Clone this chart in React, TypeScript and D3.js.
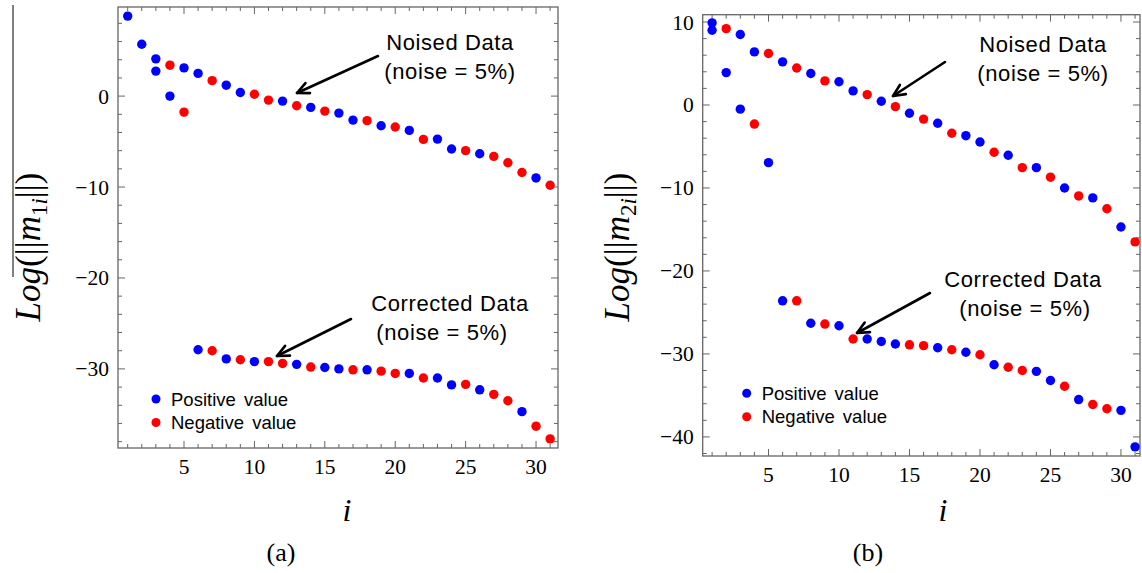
import React from "react";
import * as d3 from "d3";

// ---------- data: panel (a) ----------
const aNoisedI = [1, 2, 3, 3, 4, 4, 5, 5, 6, 7, 8, 9, 10, 11, 12, 13, 14, 15, 16, 17, 18, 19, 20, 21, 22, 23, 24, 25, 26, 27, 28, 29, 30, 31];
const aNoisedV = [8.8, 5.7, 4.1, 2.75, 3.4, 0.0, 3.1, -1.76, 2.5, 1.7, 1.2, 0.4, 0.2, -0.44, -0.55, -1.06, -1.24, -1.65, -1.87, -2.64, -2.7, -3.26, -3.4, -3.77, -4.76, -4.73, -5.82, -6.0, -6.34, -6.63, -7.33, -8.4, -9.0, -9.8];
const aNoisedS = ["P", "P", "P", "P", "N", "P", "P", "N", "P", "N", "P", "P", "N", "N", "P", "N", "P", "N", "P", "P", "N", "P", "N", "P", "N", "P", "P", "N", "P", "N", "N", "N", "P", "N"];

const aCorrI = [6, 7, 8, 9, 10, 11, 12, 13, 14, 15, 16, 17, 18, 19, 20, 21, 22, 23, 24, 25, 26, 27, 28, 29, 30, 31];
const aCorrV = [-27.9, -28.0, -28.9, -29.0, -29.2, -29.2, -29.4, -29.5, -29.8, -29.85, -30.0, -30.1, -30.1, -30.25, -30.5, -30.5, -31.0, -31.0, -31.76, -31.7, -32.3, -32.8, -33.5, -34.7, -36.3, -37.7];
const aCorrS = ["P", "N", "P", "N", "P", "N", "N", "P", "N", "P", "P", "N", "P", "N", "N", "P", "N", "P", "P", "N", "P", "N", "N", "P", "N", "N"];

// ---------- data: panel (b) ----------
const bNoisedI = [1, 1, 2, 2, 3, 3, 4, 4, 5, 5, 6, 7, 8, 9, 10, 11, 12, 13, 14, 15, 16, 17, 18, 19, 20, 21, 22, 23, 24, 25, 26, 27, 28, 29, 30, 31];
const bNoisedV = [9.9, 9.0, 9.2, 3.9, 8.5, -0.5, 6.4, -2.3, 6.2, -6.95, 5.2, 4.46, 3.8, 2.9, 2.8, 1.7, 1.25, 0.45, -0.2, -1.0, -1.7, -2.2, -3.4, -3.7, -4.46, -5.7, -6.06, -7.55, -7.55, -8.7, -10.0, -10.96, -11.2, -12.5, -14.7, -16.5];
const bNoisedS = ["P", "P", "N", "P", "P", "P", "P", "N", "N", "P", "P", "N", "P", "N", "P", "P", "N", "P", "N", "P", "N", "P", "N", "P", "P", "N", "P", "N", "P", "N", "P", "N", "P", "N", "P", "N"];

const bCorrI = [6, 7, 8, 9, 10, 11, 12, 13, 14, 15, 16, 17, 18, 19, 20, 21, 22, 23, 24, 25, 26, 27, 28, 29, 30, 31];
const bCorrV = [-23.6, -23.6, -26.3, -26.4, -26.6, -28.2, -28.2, -28.5, -28.8, -28.9, -29.0, -29.25, -29.5, -29.8, -30.1, -31.3, -31.6, -32.0, -32.1, -33.2, -33.9, -35.5, -36.1, -36.6, -36.8, -41.2];
const bCorrS = ["P", "N", "P", "N", "P", "N", "P", "P", "P", "N", "N", "P", "N", "P", "N", "P", "N", "N", "P", "P", "N", "P", "N", "N", "P", "P"];

// ---------- ticks & texts ----------
const xMajorTicks = [5, 10, 15, 20, 25, 30];
const aYMajorTicks = [-30, -20, -10, 0];
const bYMajorTicks = [-40, -30, -20, -10, 0, 10];
const legendLabels = ["Positive value", "Negative value"];
const noisedText = ["Noised Data", "(noise = 5%)"];
const correctedText = ["Corrected Data", "(noise = 5%)"];

const BLUE = "#0000ff";
const RED = "#ff0000";
const FRAME = "#666";
const SERIF = "Liberation Serif, Times New Roman, serif";
const SANS = "Liberation Sans, Arial, sans-serif";

type Pt = { i: number; v: number; s: string };
const zip = (I: number[], V: number[], S: string[]): Pt[] => I.map((i, k) => ({ i, v: V[k], s: S[k] }));

function Arrow({ x1, y1, x2, y2 }: { x1: number; y1: number; x2: number; y2: number }) {
  const ang = Math.atan2(y2 - y1, x2 - x1);
  const L = 13;
  const a = (25 * Math.PI) / 180;
  const p1 = [x2 - L * Math.cos(ang - a), y2 - L * Math.sin(ang - a)];
  const p2 = [x2 - L * Math.cos(ang + a), y2 - L * Math.sin(ang + a)];
  return (
    <g stroke="#000" strokeWidth={2.6} fill="none" strokeLinecap="round" strokeLinejoin="round">
      <line x1={x1} y1={y1} x2={x2} y2={y2} />
      <polyline points={`${p1[0]},${p1[1]} ${x2},${y2} ${p2[0]},${p2[1]}`} />
    </g>
  );
}

type PanelCfg = {
  l: number; r: number; t: number; b: number;
  xDom: [number, number]; yDom: [number, number];
  yMajor: number[];
  yMinorFrom: number; yMinorTo: number;
  sub: string;
  caption: string;
  data: Pt[];
  legendX: number; legendY: number;
  noisedX: number; noisedY: number;
  corrX: number; corrY: number; corr2X: number;
  arrowN: [number, number, number, number];
  arrowC: [number, number, number, number];
  ylabelX: number;
  iX: number; capX: number;
};

function Panel({ c }: { c: PanelCfg }) {
  const x = d3.scaleLinear().domain(c.xDom).range([c.l, c.r]);
  const y = d3.scaleLinear().domain(c.yDom).range([c.b, c.t]);
  const xMinor = d3.range(1, 32).filter((v) => v >= c.xDom[0] && v <= c.xDom[1]);
  const yMinor = d3.range(c.yMinorFrom, c.yMinorTo + 0.01, 2);
  const isMajX = (v: number) => xMajorTicks.includes(v);
  const isMajY = (v: number) => c.yMajor.includes(v);
  const maj = 7, min = 4;
  const yMid = 247;
  return (
    <g>
      <rect x={c.l} y={c.t} width={c.r - c.l} height={c.b - c.t} fill="none" stroke={FRAME} strokeWidth={1.3} />
      <g stroke={FRAME} strokeWidth={1}>
        {xMinor.map((v) => {
          const len = isMajX(v) ? maj : min;
          return (
            <g key={"x" + v}>
              <line x1={x(v)} x2={x(v)} y1={c.b} y2={c.b - len} />
              <line x1={x(v)} x2={x(v)} y1={c.t} y2={c.t + len} />
            </g>
          );
        })}
        {yMinor.map((v) => {
          const len = isMajY(v) ? maj : min;
          return (
            <g key={"y" + v}>
              <line x1={c.l} x2={c.l + len} y1={y(v)} y2={y(v)} />
              <line x1={c.r} x2={c.r - len} y1={y(v)} y2={y(v)} />
            </g>
          );
        })}
      </g>
      {xMajorTicks.map((v) => (
        <text key={"xl" + v} x={x(v)} y={c.b + 26} textAnchor="middle" fontFamily={SERIF} fontSize={21.5} fill="#000">{v}</text>
      ))}
      {c.yMajor.map((v) => (
        <text key={"yl" + v} x={c.l - 9} y={y(v) + 7.5} textAnchor="end" fontFamily={SERIF} fontSize={21.5} fill="#000">{String(v).replace("-", "\u2212")}</text>
      ))}
      {c.data.map((p, k) => (
        <circle key={k} cx={x(p.i)} cy={y(p.v)} r={4.7} fill={p.s === "P" ? BLUE : RED} />
      ))}
      {legendLabels.map((lab, k) => (
        <g key={lab}>
          <circle cx={c.legendX} cy={c.legendY + k * 23.5} r={4.5} fill={k === 0 ? BLUE : RED} />
          <text x={c.legendX + 15} y={c.legendY + k * 23.5 + 6.5} fontFamily={SANS} fontSize={18.5} wordSpacing={3} fill="#000">{lab}</text>
        </g>
      ))}
      <g fontFamily={SANS} fontSize={22} letterSpacing={0.6} fill="#000" textAnchor="middle">
        <text x={c.noisedX} y={c.noisedY}>{noisedText[0]}</text>
        <text x={c.noisedX} y={c.noisedY + 29}>{noisedText[1]}</text>
        <text x={c.corrX} y={c.corrY}>{correctedText[0]}</text>
        <text x={c.corr2X} y={c.corrY + 29}>{correctedText[1]}</text>
      </g>
      <Arrow x1={c.arrowN[0]} y1={c.arrowN[1]} x2={c.arrowN[2]} y2={c.arrowN[3]} />
      <Arrow x1={c.arrowC[0]} y1={c.arrowC[1]} x2={c.arrowC[2]} y2={c.arrowC[3]} />
      <text x={c.iX} y={521} fontFamily={SERIF} fontStyle="italic" fontSize={32} textAnchor="middle">i</text>
      <text x={c.capX} y={561} fontFamily={SERIF} fontSize={26} textAnchor="middle">{c.caption}</text>
      <text transform={`translate(${c.ylabelX},${yMid}) rotate(-90)`} fontFamily={SERIF} fontSize={35} textAnchor="middle">
        <tspan fontStyle="italic">Log</tspan>
        <tspan>(||</tspan>
        <tspan fontStyle="italic">m</tspan>
        <tspan fontSize={23} dy={7}>{c.sub}</tspan>
        <tspan fontSize={23} fontStyle="italic">i</tspan>
        <tspan dy={-7}>||)</tspan>
      </text>
    </g>
  );
}

const panelA: PanelCfg = {
  l: 118, r: 558, t: 7, b: 448,
  xDom: [0.3125, 31.56], yDom: [-38.7, 9.8],
  yMajor: aYMajorTicks, yMinorFrom: -38, yMinorTo: 8,
  sub: "1", caption: "(a)",
  data: [...zip(aNoisedI, aNoisedV, aNoisedS), ...zip(aCorrI, aCorrV, aCorrS)],
  legendX: 156, legendY: 399,
  noisedX: 450, noisedY: 50,
  corrX: 450, corrY: 311, corr2X: 442,
  arrowN: [378, 56, 297, 93],
  arrowC: [351, 319, 277, 356],
  ylabelX: 40,
  iX: 347, capX: 281,
};

const panelB: PanelCfg = {
  l: 702.7, r: 1140, t: 14.7, b: 456,
  xDom: [0.333, 31.35], yDom: [-42.3, 10.88],
  yMajor: bYMajorTicks, yMinorFrom: -42, yMinorTo: 10,
  sub: "2", caption: "(b)",
  data: [...zip(bNoisedI, bNoisedV, bNoisedS), ...zip(bCorrI, bCorrV, bCorrS)],
  legendX: 746.7, legendY: 393.3,
  noisedX: 1043, noisedY: 52,
  corrX: 1023, corrY: 287, corr2X: 1025,
  arrowN: [945, 62, 893, 96],
  arrowC: [930, 293, 857, 333],
  ylabelX: 629,
  iX: 943, capX: 868,
};

export default function App() {
  return (
    <svg width={1142} height={573} style={{ position: "absolute", left: 0, top: 0, background: "#fff" }}>
      <rect width={1142} height={573} fill="#fff" />
      <line x1={13} y1={5} x2={13} y2={277} stroke="#000" strokeWidth={1} />
      <Panel c={panelA} />
      <Panel c={panelB} />
    </svg>
  );
}
